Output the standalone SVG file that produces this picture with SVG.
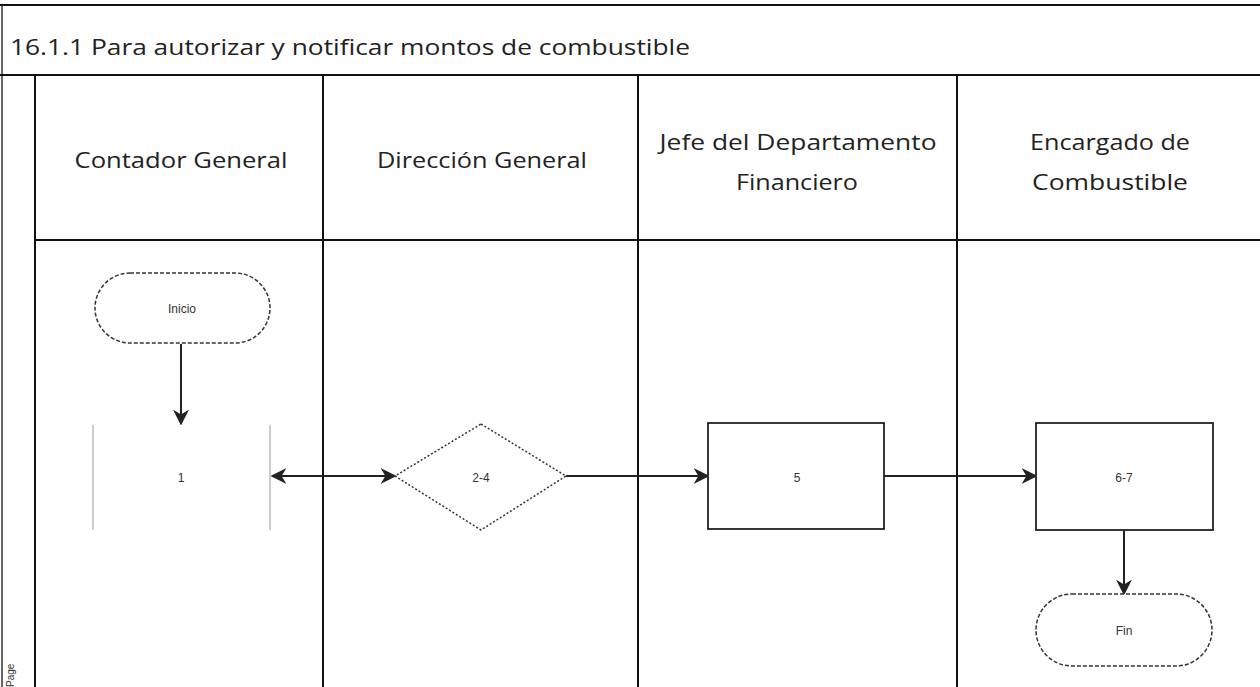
<svg xmlns="http://www.w3.org/2000/svg" width="1260" height="687" viewBox="0 0 1260 687">
<style>
.frame{stroke:#111;stroke-width:2;fill:none}
.thin{stroke:#333;stroke-width:1.5;fill:none}
.hdr{font-family:"Open Sans","Liberation Sans",sans-serif;font-size:22px;fill:#222;text-anchor:middle}
.lbl{font-family:"Liberation Sans",Arial,sans-serif;font-size:12px;fill:#333;text-anchor:middle}
.node{fill:#fff;stroke:#222;stroke-width:1.8}
.dash{fill:#fff;stroke:#333;stroke-width:1.5;stroke-dasharray:4 2}
.dot{fill:#fff;stroke:#333;stroke-width:1.5;stroke-dasharray:2 2}
.conn{stroke:#222;stroke-width:2;fill:none}
</style>
<defs>
<marker id="arrB" viewBox="0 0 10 10" refX="9" refY="5" markerWidth="16" markerHeight="16" orient="auto-start-reverse" markerUnits="userSpaceOnUse">
<path d="M0,0 L10,5 L0,10 L3,5 z" fill="#222"/>
</marker>
</defs>
<rect x="0" y="0" width="1260" height="687" fill="#fff"/>
<g id="frame">
<line class="frame" x1="0" y1="5" x2="1260" y2="5"/>
<line class="thin" x1="2" y1="5" x2="2" y2="687" stroke="#aaa"/>
<line class="frame" x1="0" y1="75" x2="1260" y2="75"/>
<line class="frame" x1="35" y1="75" x2="35" y2="687"/>
<line class="frame" x1="323" y1="75" x2="323" y2="687"/>
<line class="frame" x1="638" y1="75" x2="638" y2="687"/>
<line class="frame" x1="957" y1="75" x2="957" y2="687"/>
<line class="frame" x1="35" y1="240" x2="1260" y2="240"/>
<text x="10" y="55" font-family="Open Sans, Liberation Sans, sans-serif" font-size="21" fill="#222" textLength="680" lengthAdjust="spacingAndGlyphs">16.1.1 Para autorizar y notificar montos de combustible</text>
<text x="0" y="0" transform="translate(14,687) rotate(-90)" font-family="Liberation Sans, sans-serif" font-size="10" fill="#333">Page</text>
</g>
<g id="lane-headers">
<text class="hdr" x="181" y="168" textLength="213" lengthAdjust="spacingAndGlyphs">Contador General</text>
<text class="hdr" x="482" y="168" textLength="210" lengthAdjust="spacingAndGlyphs">Dirección General</text>
<text class="hdr" x="798" y="150" textLength="277" lengthAdjust="spacingAndGlyphs">Jefe del Departamento</text>
<text class="hdr" x="797" y="190" textLength="122" lengthAdjust="spacingAndGlyphs">Financiero</text>
<text class="hdr" x="1110" y="150" textLength="160" lengthAdjust="spacingAndGlyphs">Encargado de</text>
<text class="hdr" x="1110" y="190" textLength="156" lengthAdjust="spacingAndGlyphs">Combustible</text>
</g>
<g id="connectors">
<line class="conn" x1="181" y1="344" x2="181" y2="424" marker-end="url(#arrB)"/>
<line class="conn" x1="272" y1="476" x2="395" y2="476" marker-start="url(#arrB)" marker-end="url(#arrB)"/>
<line class="conn" x1="566" y1="476" x2="708" y2="476" marker-end="url(#arrB)"/>
<line class="conn" x1="884" y1="476" x2="1036" y2="476" marker-end="url(#arrB)"/>
<line class="conn" x1="1124" y1="530" x2="1124" y2="594" marker-end="url(#arrB)"/>
</g>
<g id="node-inicio">
<rect class="dash" x="95" y="273" width="175" height="70" rx="35" ry="35"/>
<text class="lbl" x="182" y="313">Inicio</text>
</g>
<g id="node-1">
<rect x="93" y="425" width="177" height="105" fill="#fff" stroke="none"/>
<line x1="93" y1="425" x2="93" y2="530" stroke="#999" stroke-width="1"/>
<line x1="270" y1="425" x2="270" y2="530" stroke="#999" stroke-width="1"/>
<text class="lbl" x="181" y="482">1</text>
</g>
<g id="node-2-4">
<polygon class="dot" points="481,424 566,476 481,530 395,476"/>
<text class="lbl" x="481" y="482">2-4</text>
</g>
<g id="node-5">
<rect class="node" x="708" y="423" width="176" height="106"/>
<text class="lbl" x="797" y="482">5</text>
</g>
<g id="node-6-7">
<rect class="node" x="1036" y="423" width="177" height="107"/>
<text class="lbl" x="1124" y="482">6-7</text>
</g>
<g id="node-fin">
<rect class="dash" x="1036" y="594" width="176" height="72" rx="36" ry="36"/>
<text class="lbl" x="1124" y="635">Fin</text>
</g>
</svg>
